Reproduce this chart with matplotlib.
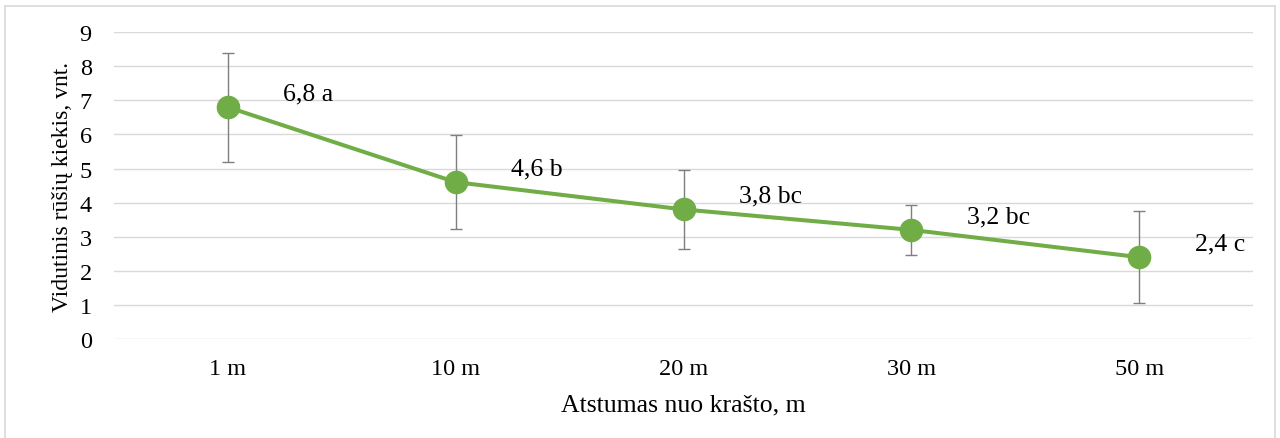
import matplotlib.pyplot as plt
from matplotlib.patches import Rectangle

# Duomenys
atstumai = ['1 m', '10 m', '20 m', '30 m', '50 m']
vidurkiai = [6.8, 4.6, 3.8, 3.2, 2.4]
paklaidos = [1.6, 1.37, 1.17, 0.74, 1.35]
raides = ['a', 'b', 'bc', 'bc', 'c']

plt.rcParams['font.family'] = ['Liberation Serif', 'DejaVu Serif']

fig = plt.figure(figsize=(12.8, 4.39), dpi=100)
ax = fig.add_axes([0.089, 0.2255, 0.89, 0.699])

# rėmelis aplink visą diagramą
fig.patches.append(Rectangle((0.004, -0.01), 0.992, 0.995, transform=fig.transFigure,
                             fill=False, edgecolor='#d9d9d9', linewidth=1.2))

x = list(range(len(atstumai)))
ax.errorbar(x, vidurkiai, yerr=paklaidos, fmt='none', ecolor='#7f7f7f',
            elinewidth=1.0, capsize=4.3, capthick=1.0, zorder=2)
ax.plot(x, vidurkiai, color='#70AD47', linewidth=2.9, marker='o',
        markersize=16, zorder=3)

for xi, v, r in zip(x, vidurkiai, raides):
    ax.annotate(f'{v:.1f}'.replace('.', ',') + f' {r}', (xi, v),
                xytext=(40, 10), textcoords='offset points',
                ha='left', va='center', fontsize=18.5, color='#000000')

ax.set_xlim(-0.5, 4.5)
ax.set_ylim(0, 9)
ax.set_yticks(range(0, 10))
ax.set_xticks(x)
ax.set_xticklabels(atstumai)
ax.tick_params(axis='both', length=0, labelsize=17.5, colors='#000000')
ax.tick_params(axis='x', pad=14)
ax.tick_params(axis='y', pad=16)
ax.grid(axis='y', color='#d9d9d9', linewidth=1.0)
ax.set_axisbelow(True)
for s in ax.spines.values():
    s.set_visible(False)

ax.set_xlabel('Atstumas nuo krašto, m', fontsize=18.5, labelpad=10)
ax.set_ylabel('Vidutinis rūšių kiekis, vnt.', fontsize=17, labelpad=5)

fig.savefig('out.png', dpi=100, facecolor='white')
